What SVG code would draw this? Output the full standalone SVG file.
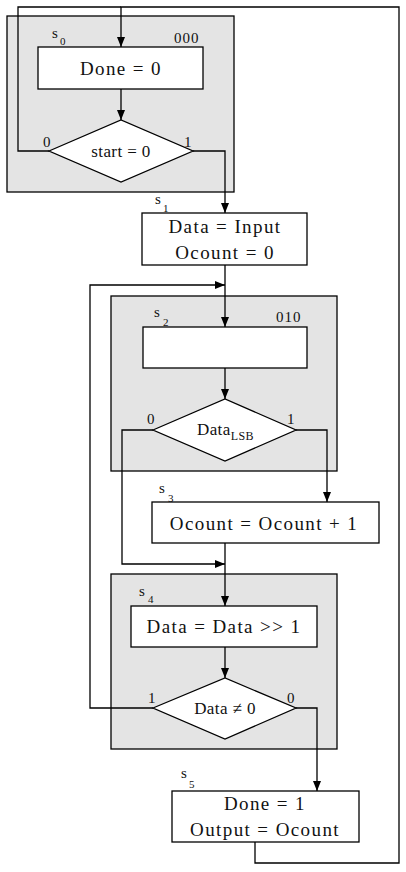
<svg xmlns="http://www.w3.org/2000/svg" width="406" height="872" viewBox="0 0 406 872">
<style>
.st{fill:#e4e4e4;stroke:#000;stroke-width:1.3}
.bx{fill:#fff;stroke:#000;stroke-width:1.3}
.ln{fill:none;stroke:#000;stroke-width:1.3}
text{font-family:"Liberation Serif","Times New Roman",serif;fill:#111}
.big{font-size:19px;letter-spacing:1.4px;text-anchor:middle}
.dt{font-size:17px;letter-spacing:0.4px;text-anchor:middle}
.lb{font-size:15px}
.sub{font-size:11px}
.cd{font-size:15px;letter-spacing:1px}
</style>
<defs>
<marker id="ah" markerUnits="userSpaceOnUse" markerWidth="10" markerHeight="8" refX="10" refY="4" orient="auto">
<path d="M0,0 L10,4 L0,8 z" fill="#000"/>
</marker>
</defs>
<rect width="406" height="872" fill="#fff"/>

<g id="state-s0">
<rect class="st" x="7" y="16" width="227" height="176"/>
<text class="lb" x="52" y="38">s</text><text class="sub" x="60" y="45">0</text>
<text class="cd" x="174" y="43">000</text>
<g id="s0-box"><rect class="bx" x="38" y="47" width="165" height="42"/>
<text class="big" x="121" y="75">Done = 0</text></g>
<g id="s0-dec"><polygon class="bx" points="49,151 121,120 193,151 121,182"/>
<text class="dt" x="121" y="157">start = 0</text>
<text class="lb" x="43" y="147">0</text><text class="lb" x="184" y="147">1</text></g>
</g>

<g id="state-s1">
<text class="lb" x="155" y="204">s</text><text class="sub" x="163" y="212">1</text>
<rect class="bx" x="142" y="213" width="165" height="52"/>
<text class="big" x="225" y="233">Data = Input</text>
<text class="big" x="225" y="259">Ocount = 0</text>
</g>

<g id="state-s2">
<rect class="st" x="111" y="296" width="226" height="175"/>
<text class="lb" x="154" y="317">s</text><text class="sub" x="163" y="326">2</text>
<text class="cd" x="276" y="322">010</text>
<g id="s2-box"><rect class="bx" x="143" y="327" width="164" height="41"/></g>
<g id="s2-dec"><polygon class="bx" points="153,430 225,399 296,430 225,461"/>
<text x="197" y="435" style="font-size:17px;letter-spacing:0.4px">Data<tspan style="font-size:12px" dy="5">LSB</tspan></text>
<text class="lb" x="147" y="424">0</text><text class="lb" x="287" y="424">1</text></g>
</g>

<g id="state-s3">
<text class="lb" x="159" y="493">s</text><text class="sub" x="168" y="502">3</text>
<rect class="bx" x="152" y="502" width="227" height="41"/>
<text class="big" x="264" y="530">Ocount = Ocount + 1</text>
</g>

<g id="state-s4">
<rect class="st" x="111" y="574" width="226" height="175"/>
<text class="lb" x="139" y="596">s</text><text class="sub" x="148" y="603">4</text>
<g id="s4-box"><rect class="bx" x="131" y="606" width="186" height="41"/>
<text class="big" x="224" y="633">Data = Data &gt;&gt; 1</text></g>
<g id="s4-dec"><polygon class="bx" points="153,708 225,678 296,708 225,739"/>
<text class="dt" x="225" y="714">Data ≠ 0</text>
<text class="lb" x="148" y="703">1</text><text class="lb" x="287" y="703">0</text></g>
</g>

<g id="state-s5">
<text class="lb" x="181" y="778">s</text><text class="sub" x="189" y="788">5</text>
<rect class="bx" x="172" y="791" width="187" height="51"/>
<text class="big" x="265" y="810">Done = 1</text>
<text class="big" x="265" y="836">Output = Ocount</text>
</g>

<g id="connectors">
<path class="ln" d="M255,842 V863 H399 V7 H121 V47" marker-end="url(#ah)"/>
<path class="ln" d="M49,151 H18 V7 H121"/>
<path class="ln" d="M121,89 V120" marker-end="url(#ah)"/>
<path class="ln" d="M193,151 H225 V213" marker-end="url(#ah)"/>
<path class="ln" d="M225,265 V327" marker-end="url(#ah)"/>
<path class="ln" d="M153,708 H90 V285 H225" marker-end="url(#ah)"/>
<path class="ln" d="M225,368 V399" marker-end="url(#ah)"/>
<path class="ln" d="M296,430 H327 V502" marker-end="url(#ah)"/>
<path class="ln" d="M153,430 H122 V564 H225" marker-end="url(#ah)"/>
<path class="ln" d="M225,543 V606" marker-end="url(#ah)"/>
<path class="ln" d="M225,647 V678" marker-end="url(#ah)"/>
<path class="ln" d="M296,708 H317 V791" marker-end="url(#ah)"/>
</g>
</svg>
